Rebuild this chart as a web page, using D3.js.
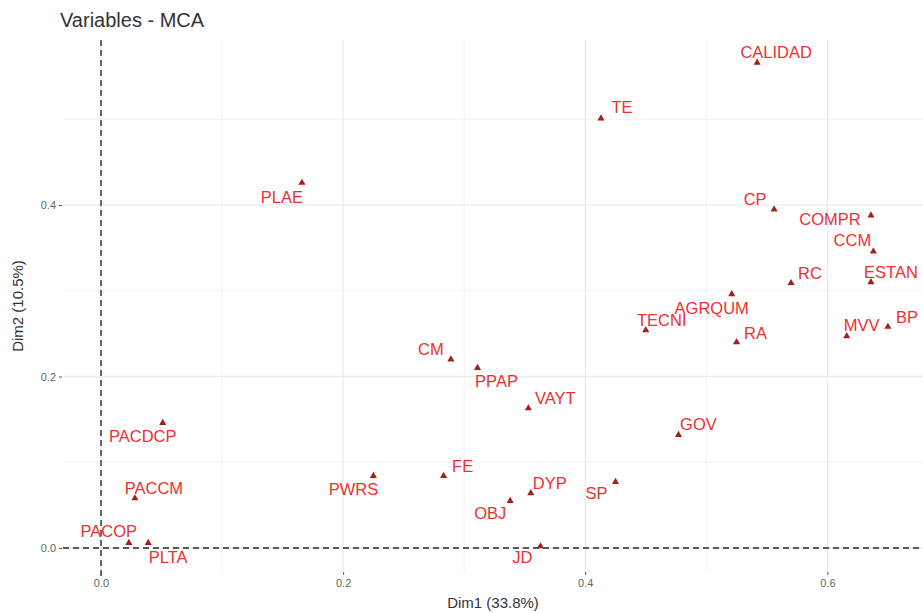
<!DOCTYPE html>
<html>
<head>
<meta charset="utf-8">
<script src="https://cdn.jsdelivr.net/npm/d3@7"></script>
<style>
  html, body { margin: 0; padding: 0; background: #fff; }
  svg { display: block; font-family: "Liberation Sans", Arial, Helvetica, sans-serif; }
</style>
</head>
<body>
<svg id="chart" width="923" height="613"></svg>
<script>
// ---- data ----
const categories = ["CALIDAD","TE","PLAE","CP","COMPR","CCM","ESTAN","RC","AGRQUM","TECNI","RA","MVV","BP","GOV",
  "CM","PPAP","VAYT","FE","PWRS","DYP","OBJ","SP","JD","PACDCP","PACCM","PACOP","PLTA"];
const dim1 = [0.542,0.413,0.166,0.556,0.636,0.638,0.636,0.570,0.521,0.450,0.525,0.616,0.650,0.477,
  0.289,0.311,0.353,0.283,0.225,0.355,0.338,0.425,0.363,0.051,0.028,0.023,0.039];
const dim2 = [0.566,0.501,0.426,0.395,0.388,0.346,0.310,0.309,0.296,0.254,0.240,0.247,0.258,0.132,
  0.220,0.210,0.163,0.084,0.084,0.064,0.055,0.077,0.002,0.146,0.058,0.006,0.006];
const xTicks = [0.0, 0.2, 0.4, 0.6];
const yTicks = [0.0, 0.2, 0.4];
const xMinor = [0.1, 0.3, 0.5];
const yMinor = [0.1, 0.3, 0.5];
const titleText = "Variables - MCA";
const xTitle = "Dim1 (33.8%)";
const yTitle = "Dim2 (10.5%)";

// ---- layout: repelled label offsets (pixels, label centre relative to point) ----
const labelDx = [19,21,-20,-19,-41,-21,20,19,-20,16,19,15,19,20,-20,19,27,19,-20,19,-20,-19,-18,-20,19,-20,20];
const labelDy = [-11,-11,14,-10,4,-11,-10,-10,14,-10,-9,-11,-10,-11,-10,13,-10,-10,13,-10,12,11,11,13,-10,-12,14];

const svg = d3.select("#chart");
const P = { left: 63, right: 923, top: 40, bottom: 572 };

const x = d3.scaleLinear().domain([-0.0314, 0.679]).range([P.left, P.right]);
const y = d3.scaleLinear().domain([-0.028, 0.5925]).range([P.bottom, P.top]);

const g = svg.append("g");

// minor grid
g.selectAll(".vminor").data(xMinor).join("line")
  .attr("x1", d => x(d)).attr("x2", d => x(d)).attr("y1", P.top).attr("y2", P.bottom)
  .attr("stroke", "#f2f2f2").attr("stroke-width", 1);
g.selectAll(".hminor").data(yMinor).join("line")
  .attr("y1", d => y(d)).attr("y2", d => y(d)).attr("x1", P.left).attr("x2", P.right)
  .attr("stroke", "#f2f2f2").attr("stroke-width", 1);
// major grid
g.selectAll(".vmajor").data(xTicks).join("line")
  .attr("x1", d => x(d)).attr("x2", d => x(d)).attr("y1", P.top).attr("y2", P.bottom)
  .attr("stroke", "#ebebeb").attr("stroke-width", 1.3);
g.selectAll(".hmajor").data(yTicks).join("line")
  .attr("y1", d => y(d)).attr("y2", d => y(d)).attr("x1", P.left).attr("x2", P.right)
  .attr("stroke", "#ebebeb").attr("stroke-width", 1.3);

// axes via d3 axis
const xAxis = d3.axisBottom(x).tickValues(xTicks).tickFormat(d3.format(".1f")).tickSize(3).tickPadding(4);
const yAxis = d3.axisLeft(y).tickValues(yTicks).tickFormat(d3.format(".1f")).tickSize(3).tickPadding(3);
const gx = svg.append("g").attr("transform", `translate(0,${P.bottom})`).call(xAxis);
const gy = svg.append("g").attr("transform", `translate(${P.left - 1},0)`).call(yAxis);
[gx, gy].forEach(a => {
  a.select(".domain").remove();
  a.selectAll(".tick line").attr("stroke", "#555").attr("stroke-width", 1);
  a.selectAll(".tick text").attr("fill", "#666").style("font-size", "11px")
    .style("font-family", "'Liberation Sans', Arial, sans-serif");
});

// zero reference lines
g.append("line").attr("x1", P.left).attr("x2", P.right).attr("y1", y(0)).attr("y2", y(0))
  .attr("stroke", "#5a5a5a").attr("stroke-width", 1.8).attr("stroke-dasharray", "6,4");
g.append("line").attr("x1", x(0)).attr("x2", x(0)).attr("y1", P.top).attr("y2", P.bottom + 8)
  .attr("stroke", "#5a5a5a").attr("stroke-width", 1.8).attr("stroke-dasharray", "6,4");

// points
const pts = categories.map((c, i) => ({ name: c, x: dim1[i], y: dim2[i], dx: labelDx[i], dy: labelDy[i] }));
const tri = d3.symbol().type(d3.symbolTriangle).size(22);
g.selectAll(".pt").data(pts).join("path")
  .attr("d", tri)
  .attr("transform", d => `translate(${x(d.x)},${y(d.y)})`)
  .attr("fill", "#a3201f");

// labels
g.selectAll(".lbl").data(pts).join("text")
  .attr("x", d => x(d.x) + d.dx)
  .attr("y", d => y(d.y) + d.dy)
  .attr("text-anchor", "middle")
  .attr("dominant-baseline", "central")
  .attr("fill", "#ee3030")
  .style("font-size", "16.5px")
  .text(d => d.name);

// titles
svg.append("text").attr("x", 60).attr("y", 27).attr("fill", "#333")
  .style("font-size", "20px").text(titleText);
svg.append("text").attr("x", (P.left + P.right) / 2).attr("y", 608).attr("text-anchor", "middle")
  .attr("fill", "#333").style("font-size", "15px").text(xTitle);
svg.append("text").attr("transform", `translate(23,${(P.top + P.bottom) / 2}) rotate(-90)`)
  .attr("text-anchor", "middle").attr("fill", "#333").style("font-size", "15px").text(yTitle);
</script>
</body>
</html>
